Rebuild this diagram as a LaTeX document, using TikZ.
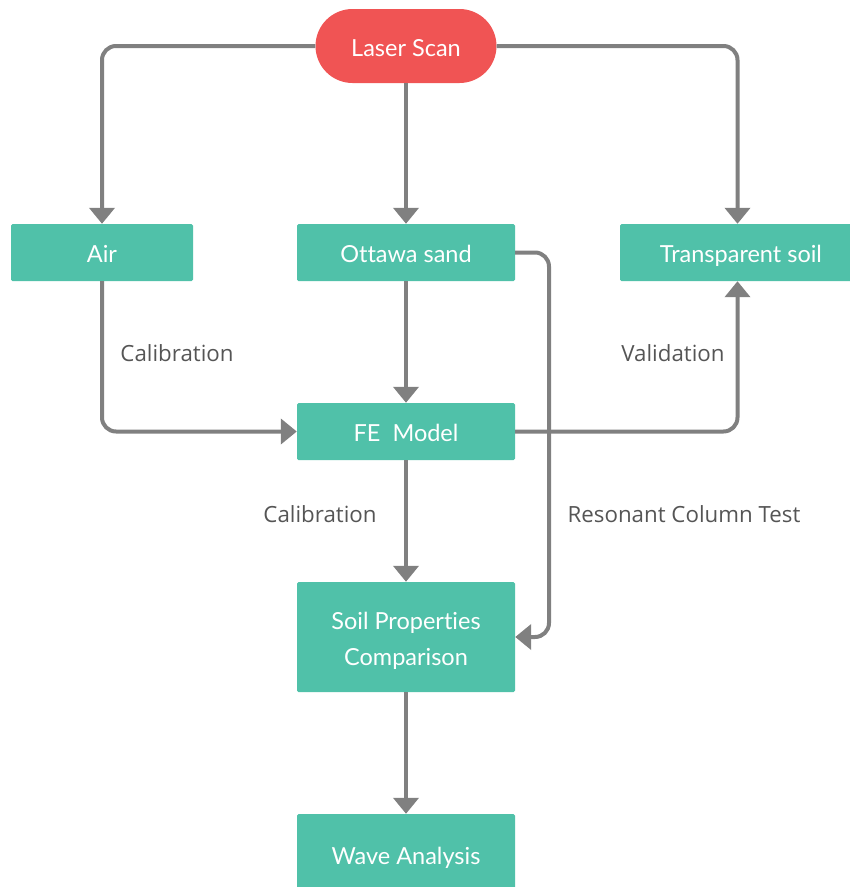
\documentclass[tikz,border=0pt]{standalone}
\usepackage{fontspec}
\setmainfont{Lato}[Ligatures=NoCommon]
\newfontfamily\labelfont{Open Sans}
\usetikzlibrary{arrows.meta,calc}
\definecolor{teal}{HTML}{50C1A9}
\definecolor{redpill}{HTML}{F05454}
\definecolor{linegray}{HTML}{808080}
\definecolor{labelgray}{HTML}{555555}
\begin{document}
\begin{tikzpicture}[x=1pt,y=-1pt,
  box/.style={rectangle, fill=teal, text=white, rounded corners=1.5pt, inner sep=0pt, text height=20.5pt, text depth=0pt, font=\fontsize{23.5}{27}\selectfont},
  pill/.style={rectangle, fill=redpill, text=white, rounded corners=37pt, inner sep=0pt, text height=20.5pt, text depth=0pt, minimum width=181pt, minimum height=74pt, font=\fontsize{23.5}{27}\selectfont},
  conn/.style={draw=linegray, line width=4pt, rounded corners=14pt, -{Triangle[width=25pt,length=16pt]}},
  lbl/.style={text=labelgray, font=\labelfont\fontsize{22.3}{26}\selectfont, inner sep=0pt}
]
\useasboundingbox (0,0) rectangle (850,887);
\node[pill] (laser) at (406,46) {Laser Scan};
\node[box, minimum width=182pt, minimum height=57pt] (air) at (102,252.5) {Air};
\node[box, minimum width=218pt, minimum height=57pt] (ottawa) at (406,252.5) {Ottawa sand};
\node[box, minimum width=242pt, minimum height=57pt] (transp) at (741,252.5) {Transparent soil};
\node[box, minimum width=218pt, minimum height=57pt] (fe) at (406,431.5) {FE\ \ Model};
\node[rectangle, fill=teal, rounded corners=1.5pt, minimum width=218pt, minimum height=110pt,
  label={[text=white, align=center, inner sep=0pt, yshift=-4pt, font=\fontsize{23.5}{36}\selectfont]center:Soil Properties\\Comparison}] (soil) at (406,637) {};
\node[box, minimum width=218pt, minimum height=80pt] (wave) at (406,854) {Wave Analysis};

\coordinate (tx) at (737.5,0);
\coordinate (rc) at (549,0);

\draw[conn] (laser.west) -| (air.north);
\draw[conn] (laser.east) -| (tx |- transp.north);
\draw[conn] (laser.south) -- (ottawa.north);
\draw[conn] (ottawa.south) -- (fe.north);
\draw[conn] (air.south) |- (fe.west);
\draw[conn] (fe.east) -| (tx |- transp.south);
\draw[conn] (fe.south) -- (soil.north);
\draw[conn] (ottawa.east) -- (rc |- ottawa.east) -- (rc |- soil.east) -- (soil.east);
\draw[conn] (soil.south) -- (wave.north);

\node[lbl] (l1) at (177,353) {Calibration};
\node[lbl] (l2) at (673,353) {Validation};
\node[lbl] (l3) at (320,514) {Calibration};
\node[lbl] (l4) at (684,514) {Resonant Column Test};
\end{tikzpicture}
\end{document}
